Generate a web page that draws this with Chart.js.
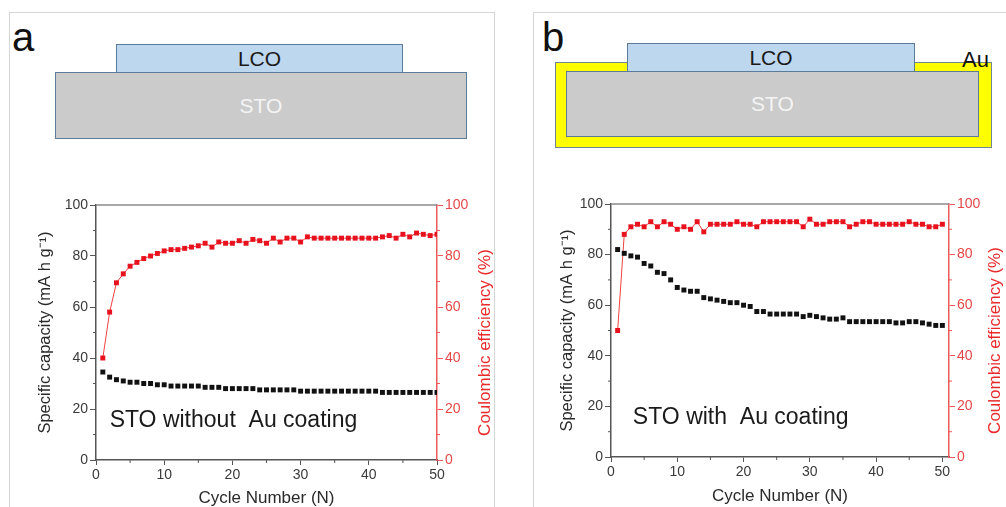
<!DOCTYPE html>
<html>
<head>
<meta charset="utf-8">
<script src="https://cdn.jsdelivr.net/npm/chart.js@4.4.1/dist/chart.umd.min.js"></script>
<style>
  body { margin: 0; width: 1006px; height: 507px; overflow: hidden; background: #fff;
         font-family: "Liberation Sans", Arial, sans-serif; position: relative; }
  .panel { position: absolute; border: 1px solid #d6d6d6; }
  .box { position: absolute; box-sizing: border-box; border: 1.5px solid #5b7b98;
         display: flex; align-items: center; justify-content: center; font-size: 21px; }
  .lco { background: #bdd7ee; color: #1a1a1a; }
  .sto { background: #cbcbcb; color: #f4f4f4; }
  .au { background: #ffff00; border-color: #72848f; }
  .tag { position: absolute; color: #111; line-height: 1; }
  canvas { position: absolute; }
</style>
</head>
<body>

<div class="panel" style="left:9px; top:12px; width:484px; height:520px;"></div>
<div class="panel" style="left:533px; top:12px; width:500px; height:520px;"></div>

<!-- schematic a -->
<div class="tag" style="left:12px; top:17px; font-size:40px;">a</div>
<div class="box sto" style="left:55px; top:72px; width:412px; height:67px;">STO</div>
<div class="box lco" style="left:116px; top:44px; width:287px; height:29px;">LCO</div>

<!-- schematic b -->
<div class="tag" style="left:542px; top:17px; font-size:40px;">b</div>
<div class="box au" style="left:555px; top:62px; width:437px; height:86px;"></div>
<div class="box sto" style="left:566px; top:71px; width:413px; height:66px;">STO</div>
<div class="box lco" style="left:627px; top:43px; width:288px; height:29px;">LCO</div>
<div class="tag" style="left:962px; top:49px; font-size:22px;">Au</div>

<canvas id="chart-a" width="456" height="317" style="left:37px; top:190px;"></canvas>
<canvas id="chart-b" width="444" height="315" style="left:559px; top:190px;"></canvas>

<script>
// cycle number
const cycles = [1, 2, 3, 4, 5, 6, 7, 8, 9, 10, 11, 12, 13, 14, 15, 16, 17, 18, 19, 20,
  21, 22, 23, 24, 25, 26, 27, 28, 29, 30, 31, 32, 33, 34, 35, 36, 37, 38, 39, 40,
  41, 42, 43, 44, 45, 46, 47, 48, 49, 50];

// a: STO without Au coating
const capacityA = [34.5, 32.5, 31.5, 31, 30.5, 30.5, 30, 30, 29.5, 29.5,
  29, 29, 29, 29, 29, 28.5, 28.5, 28.5, 28, 28,
  28, 28, 28, 27.5, 27.5, 27.5, 27.5, 27.5, 27.5, 27,
  27, 27, 27, 27, 27, 27, 27, 27, 27, 27,
  27, 26.5, 26.5, 26.5, 26.5, 26.5, 26.5, 26.5, 26.5, 26.5];
const efficiencyA = [40, 58, 69.5, 73, 76, 77.5, 79, 80, 81, 82,
  82.5, 82.5, 83, 83.5, 84, 85, 83.5, 85.5, 85, 85,
  86, 85, 86.5, 86, 85, 87, 85.5, 87, 87, 85.5,
  87.5, 87, 87, 87, 87, 87, 87, 87, 87, 87,
  87, 87.5, 88, 87, 88.5, 87.5, 89, 88.5, 88, 88.5];

// b: STO with Au coating
const capacityB = [82, 80.5, 79.5, 79, 76.5, 75.5, 73, 72.5, 70, 67,
  66, 65.5, 65.5, 63, 62.5, 62, 61.5, 61, 61, 60,
  59.5, 57.5, 57.5, 56.5, 56.5, 56.5, 56.5, 56.5, 55.5, 56,
  55.5, 55, 54.5, 54.5, 55, 53.5, 53.5, 53.5, 53.5, 53.5,
  53.5, 53.5, 53, 53, 53.5, 53.5, 53, 52.5, 52, 52];
const efficiencyB = [50, 88, 91, 92, 91, 93, 91, 93, 92, 90,
  91, 90, 93, 89, 92, 92, 92, 92, 93, 92,
  92, 91, 93, 93, 93, 93, 93, 93, 91, 94,
  92, 92, 93, 93, 93, 91, 92, 93, 93, 92,
  92, 92, 92, 92, 93, 92, 92, 91, 91, 92];

const xTicks = [0, 10, 20, 30, 40, 50];
const xMinorTicks = [5, 15, 25, 35, 45];
const yMinorTicks = [10, 30, 50, 70, 90];

const FONT = '"Liberation Sans", Arial, sans-serif';
const DARK = '#555';
const RED = '#e8121e';
const RED_AXIS = '#ec5a5a';

// top frame line, minor ticks, note text, right title (reads bottom-up)
const framePlugin = {
  id: 'frame',
  afterDraw( chart, args, opts ) {
    const { ctx, chartArea, scales } = chart;
    const { x, y, y1 } = scales;

    ctx.save();
    ctx.lineWidth = 1.5;
    ctx.strokeStyle = '#8a8a8a';
    ctx.beginPath();
    ctx.moveTo( chartArea.left, chartArea.top );
    ctx.lineTo( chartArea.right, chartArea.top );
    ctx.stroke();

    ctx.lineWidth = 1;
    ctx.strokeStyle = DARK;
    for ( const v of xMinorTicks ) {
      const px = x.getPixelForValue( v );
      ctx.beginPath();
      ctx.moveTo( px, chartArea.bottom );
      ctx.lineTo( px, chartArea.bottom + 3 );
      ctx.stroke();
    }
    for ( const v of yMinorTicks ) {
      const py = y.getPixelForValue( v );
      ctx.strokeStyle = DARK;
      ctx.beginPath();
      ctx.moveTo( chartArea.left, py );
      ctx.lineTo( chartArea.left - 3, py );
      ctx.stroke();
      ctx.strokeStyle = RED_AXIS;
      ctx.beginPath();
      ctx.moveTo( chartArea.right, py );
      ctx.lineTo( chartArea.right + 3, py );
      ctx.stroke();
    }

    ctx.fillStyle = '#1a1a1a';
    ctx.font = '23px ' + FONT;
    ctx.textBaseline = 'middle';
    ctx.textAlign = 'left';
    ctx.fillText( opts.note, x.getPixelForValue( opts.noteX ), y.getPixelForValue( opts.noteY ) );

    ctx.translate( y1.right - 8, ( chartArea.top + chartArea.bottom ) / 2 + 10 );
    ctx.rotate( -Math.PI / 2 );
    ctx.fillStyle = '#e82a2a';
    ctx.font = '17px ' + FONT;
    ctx.textAlign = 'center';
    ctx.fillText( 'Coulombic efficiency (%)', 0, 0 );
    ctx.restore();
  }
};

function points( values ) {
  return cycles.map( ( c, i ) => ( { x: c, y: values[i] } ) );
}

function createChart( id, capacity, efficiency, cfg ) {
  const canvas = document.getElementById( id );

  return new Chart( canvas, {
    type: 'scatter',
    data: {
      datasets: [
        {
          data: points( capacity ),
          yAxisID: 'y',
          showLine: false,
          pointStyle: 'rect',
          pointRadius: 3.5,
          pointBackgroundColor: '#111',
          pointBorderWidth: 0
        },
        {
          data: points( efficiency ),
          yAxisID: 'y1',
          showLine: true,
          borderColor: '#f04040',
          borderWidth: 1,
          pointStyle: 'rect',
          pointRadius: 3.5,
          pointBackgroundColor: RED,
          pointBorderWidth: 0
        }
      ]
    },
    options: {
      responsive: false,
      animation: false,
      layout: { padding: { top: cfg.padTop, left: 0, right: 0, bottom: 0 } },
      plugins: {
        legend: { display: false },
        tooltip: { enabled: false },
        frame: { note: cfg.note, noteX: cfg.noteX, noteY: 15.5 }
      },
      scales: {
        x: {
          type: 'linear',
          min: 0,
          max: cfg.xMax,
          afterBuildTicks: ( scale ) => { scale.ticks = xTicks.map( v => ( { value: v } ) ); },
          afterFit: ( scale ) => { scale.height = cfg.xHeight; },
          border: { color: DARK, width: 1.5 },
          grid: { drawOnChartArea: false, tickLength: 5, tickColor: DARK },
          ticks: { color: '#3a3a3a', padding: 2, font: { family: FONT, size: 14 } },
          title: {
            display: true,
            text: 'Cycle Number (N)',
            color: '#2a2a2a',
            padding: 0,
            font: { family: FONT, size: 17, lineHeight: 1 }
          }
        },
        y: {
          position: 'left',
          min: 0,
          max: 100,
          ticks: { stepSize: 20, color: '#3a3a3a', padding: 2, font: { family: FONT, size: 14 } },
          afterFit: ( scale ) => { scale.width = cfg.leftWidth; },
          border: { color: DARK, width: 1.5 },
          grid: { drawOnChartArea: false, tickLength: 6, tickColor: DARK },
          title: {
            display: true,
            text: 'Specific capacity (mA h g\u207B\u00B9)',
            color: '#2a2a2a',
            padding: 0,
            font: { family: FONT, size: 16.5, lineHeight: 1 }
          }
        },
        y1: {
          position: 'right',
          min: 0,
          max: 100,
          ticks: { stepSize: 20, color: '#e44848', padding: 2, font: { family: FONT, size: 14 } },
          afterFit: ( scale ) => { scale.width = cfg.rightWidth; },
          border: { color: RED_AXIS, width: 1.5 },
          grid: { drawOnChartArea: false, tickLength: 6, tickColor: RED_AXIS }
        }
      }
    },
    plugins: [ framePlugin ]
  });
}

const chartA = createChart( 'chart-a', capacityA, efficiencyA, {
  padTop: 15, xMax: 50, xHeight: 47, leftWidth: 59, rightWidth: 56,
  note: 'STO without  Au coating', noteX: 2
});

const chartB = createChart( 'chart-b', capacityB, efficiencyB, {
  padTop: 14, xMax: 51, xHeight: 48, leftWidth: 52, rightWidth: 54,
  note: 'STO with  Au coating', noteX: 3.3
});
</script>
</body>
</html>
